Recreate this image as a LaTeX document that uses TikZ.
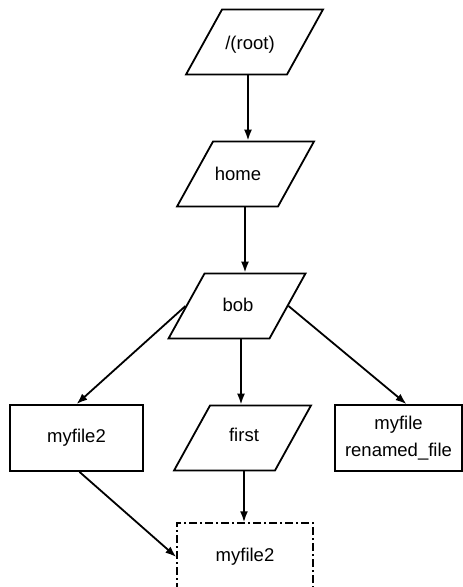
\documentclass[tikz,border=0pt]{standalone}
\usepackage{fontspec}
\setmainfont{Liberation Sans}
\usetikzlibrary{shapes.geometric,arrows.meta}
\begin{document}
\begin{tikzpicture}[x=1pt,y=-1pt,
  every node/.style={font=\fontsize{18.5}{22}\selectfont},
  slanted/.style={draw,line width=1.8pt,trapezium,trapezium left angle=61,
    trapezium right angle=119,trapezium stretches=true,
    minimum width=137pt,minimum height=65pt,inner sep=2pt},
  filebox/.style={draw,line width=1.8pt,rectangle,minimum width=133pt,
    minimum height=66pt,inner sep=0pt,align=center},
  ghostbox/.style={draw,line width=1.5pt,rectangle,minimum width=136pt,
    minimum height=68pt,inner sep=0pt,
    dash pattern=on 8pt off 3pt on 2pt off 3pt},
  caption/.style={inner sep=0pt},
  link/.style={line width=1.8pt,-{Latex[length=11pt,width=8pt]}},
]
\useasboundingbox (0,0) rectangle (463,587);

% directory chain
\node[slanted] (root)  at (254.5,42) {};
\node[slanted] (home)  at (245.5,174) {};
\node[slanted] (bob)   at (237,306)  {};
\node[caption] (roott) at (250,45)   {/(root)};
\node[caption] (homet) at (238,174)  {home};
\node[caption] (bobt)  at (238,305)  {bob};

% contents of bob
\node[filebox] (mf2)   at (76.5,438) {myfile2};
\node[slanted] (first) at (242.5,438) {};
\node[caption] (firstt) at (244,435) {first};
\node[filebox,minimum width=127pt,font=\fontsize{18.5}{27}\selectfont]
               (ren)   at (398.5,438) {myfile\\renamed\_file};

% moved file inside first
\node[ghostbox] (moved) at (245,557) {myfile2};

% vertical guides for the straight connectors
\coordinate (xa) at (248,0);
\coordinate (xb) at (245,0);
\coordinate (xc) at (241,0);
\coordinate (xd) at (244,0);

\draw[link] (root.south -| xa) -- (home.north -| xa);
\draw[link] (home.south -| xb) -- (bob.north -| xb);
\draw[link] (bob.south -| xc) -- (first.north -| xc);
\draw[link] (bob.west) -- (mf2.north);
\draw[link] (bob.east) -- ([xshift=8pt]ren.north);
\draw[link] (first.south -| xd) -- (moved.north -| xd);
\draw[link] ([xshift=3pt]mf2.south) -- (moved.west);
\end{tikzpicture}
\end{document}
